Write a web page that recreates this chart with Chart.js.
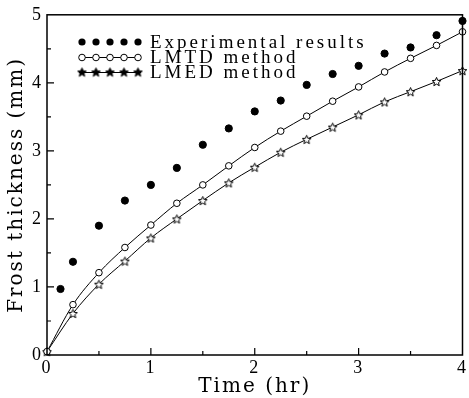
<!DOCTYPE html>
<html>
<head>
<meta charset="utf-8">
<script src="https://cdn.jsdelivr.net/npm/chart.js@4.4.0/dist/chart.umd.min.js"></script>
<style>
html, body { margin: 0; padding: 0; background: #fff; }
#wrap { width: 469px; height: 398px; }
</style>
</head>
<body>
<div id="wrap"><canvas id="myChart"></canvas></div>
<script>
// values
let expTime = [0.13, 0.25, 0.5, 0.75, 1.0, 1.25, 1.5, 1.75, 2.0, 2.25, 2.5, 2.75, 3.0, 3.25, 3.5, 3.75, 4.0];
let expThick = [0.97, 1.37, 1.90, 2.27, 2.50, 2.75, 3.09, 3.33, 3.58, 3.74, 3.97, 4.13, 4.25, 4.43, 4.52, 4.70, 4.91];
let modelTime = [0, 0.25, 0.5, 0.75, 1.0, 1.25, 1.5, 1.75, 2.0, 2.25, 2.5, 2.75, 3.0, 3.25, 3.5, 3.75, 4.0];
let lmtdThick = [0.05, 0.74, 1.21, 1.58, 1.91, 2.23, 2.50, 2.78, 3.05, 3.29, 3.51, 3.73, 3.94, 4.16, 4.36, 4.55, 4.75];
let lmedThick = [0.05, 0.61, 1.04, 1.38, 1.72, 2.00, 2.27, 2.53, 2.76, 2.98, 3.17, 3.35, 3.53, 3.72, 3.87, 4.02, 4.18];
let seriesNames = ['Experimental results', 'LMTD method', 'LMED method'];
let xTicks = [0, 1, 2, 3, 4];
let yTicks = [0, 1, 2, 3, 4, 5];

function toPoints(xs, ys) {
    return xs.map((x, i) => ({ x: x, y: ys[i] }));
}

// five-pointed star used as point style
function starPath(ctx, cx, cy, r) {
    ctx.beginPath();
    for (let i = 0; i < 10; i++) {
        let rr = i % 2 === 0 ? r : r * 0.45;
        let a = -Math.PI / 2 + i * Math.PI / 5;
        let px = cx + rr * Math.cos(a), py = cy + rr * Math.sin(a);
        if (i === 0) ctx.moveTo(px, py); else ctx.lineTo(px, py);
    }
    ctx.closePath();
}
function makeStar(filled) {
    let c = document.createElement('canvas');
    c.width = 11; c.height = 11;
    let g = c.getContext('2d');
    starPath(g, 5.5, 6, 4.6);
    g.fillStyle = filled ? '#000' : '#fff';
    g.fill();
    g.lineWidth = 1;
    g.strokeStyle = '#000';
    g.stroke();
    return c;
}
let openStar = makeStar(false);
let solidStar = makeStar(true);

let framePlugin = {
    id: 'frame',
    beforeDraw: function (chart) {
        chart.ctx.letterSpacing = '2px';
    },
    afterDraw: function (chart) {
        let ctx = chart.ctx;
        let a = chart.chartArea;
        let xs = chart.scales.x, ys = chart.scales.y;
        ctx.save();
        ctx.letterSpacing = '0px';
        ctx.strokeStyle = '#000';
        ctx.lineWidth = 1.5;
        ctx.strokeRect(a.left, a.top, a.right - a.left, a.bottom - a.top);
        ctx.lineWidth = 1.2;
        ctx.beginPath();
        for (let v = 0.5; v < 4; v += 0.5) {
            let px = xs.getPixelForValue(v);
            let len = v % 1 === 0 ? 7 : 4;
            ctx.moveTo(px, a.bottom); ctx.lineTo(px, a.bottom - len);
        }
        for (let v = 0.5; v < 5; v += 0.5) {
            let py = ys.getPixelForValue(v);
            let len = v % 1 === 0 ? 7 : 4;
            ctx.moveTo(a.left, py); ctx.lineTo(a.left + len, py);
        }
        ctx.stroke();

        // legend inside the plot
        let rows = [42, 57.5, 72.5];
        let x0 = 82, step = 14;
        for (let r = 0; r < 3; r++) {
            let y = rows[r];
            if (r > 0) {
                ctx.lineWidth = 1;
                ctx.beginPath();
                ctx.moveTo(x0 - 3, y); ctx.lineTo(x0 + 4 * step + 3, y);
                ctx.stroke();
            }
            for (let i = 0; i < 5; i++) {
                let px = x0 + i * step;
                if (r === 0) {
                    ctx.beginPath(); ctx.arc(px, y, 3.6, 0, Math.PI * 2);
                    ctx.fillStyle = '#000'; ctx.fill();
                } else if (r === 1) {
                    ctx.beginPath(); ctx.arc(px, y, 3.3, 0, Math.PI * 2);
                    ctx.fillStyle = '#fff'; ctx.fill(); ctx.stroke();
                } else {
                    ctx.drawImage(solidStar, px - 5.5, y - 6);
                }
            }
            ctx.fillStyle = '#000';
            ctx.font = '19px "Liberation Serif"';
            ctx.letterSpacing = '3px';
            ctx.textBaseline = 'middle';
            ctx.textAlign = 'left';
            ctx.fillText(chart.data.datasets[r].label, 150, y + 1);
            ctx.letterSpacing = '0px';
        }
        ctx.restore();
    }
};
Chart.register(framePlugin);

let ctx = document.getElementById('myChart').getContext('2d');
let tickFont = { family: '"Liberation Serif", serif', size: 18 };
let titleFont = { family: '"DejaVu Serif", serif', size: 20, lineHeight: 1.0 };

let myChart = new Chart(ctx, {
    type: 'line',
    data: {
        datasets: [{
            label: seriesNames[0],
            data: toPoints(expTime, expThick),
            showLine: false,
            pointStyle: 'circle',
            pointRadius: 3.6,
            pointBackgroundColor: '#000',
            pointBorderColor: '#000',
            borderColor: '#000',
            clip: false
        }, {
            label: seriesNames[1],
            data: toPoints(modelTime, lmtdThick),
            borderColor: '#000',
            borderWidth: 1,
            tension: 0.4,
            cubicInterpolationMode: 'monotone',
            pointStyle: 'circle',
            pointRadius: 3.3,
            pointBackgroundColor: '#fff',
            pointBorderColor: '#000',
            pointBorderWidth: 1,
            clip: false
        }, {
            label: seriesNames[2],
            data: toPoints(modelTime, lmedThick),
            borderColor: '#000',
            borderWidth: 1,
            tension: 0.4,
            cubicInterpolationMode: 'monotone',
            pointStyle: openStar,
            clip: false
        }]
    },
    options: {
        responsive: true,
        maintainAspectRatio: false,
        animation: false,
        layout: { padding: { top: 12, right: 4, left: 0, bottom: 0 } },
        plugins: {
            legend: { display: false },
            tooltip: { enabled: false }
        },
        scales: {
            x: {
                type: 'linear',
                min: 0, max: 4,
                afterFit: function (scale) { scale.height = 43; },
                afterBuildTicks: function (scale) { scale.ticks = xTicks.map(v => ({ value: v })); },
                grid: { display: false, drawTicks: false },
                border: { display: false },
                ticks: { color: '#000', font: tickFont, padding: 2, maxRotation: 0 },
                title: { display: true, text: 'Time (hr)', color: '#000', font: titleFont, padding: { top: 0, bottom: 1 } }
            },
            y: {
                type: 'linear',
                min: 0, max: 5,
                afterFit: function (scale) { scale.width = 47; },
                afterBuildTicks: function (scale) { scale.ticks = yTicks.map(v => ({ value: v })); },
                grid: { display: false, drawTicks: false },
                border: { display: false },
                ticks: { color: '#000', font: tickFont, padding: 4 },
                title: { display: true, text: 'Frost thickness (mm)', color: '#000', font: titleFont, padding: { top: 7, bottom: 0 } }
            }
        }
    }
});
</script>
</body>
</html>
